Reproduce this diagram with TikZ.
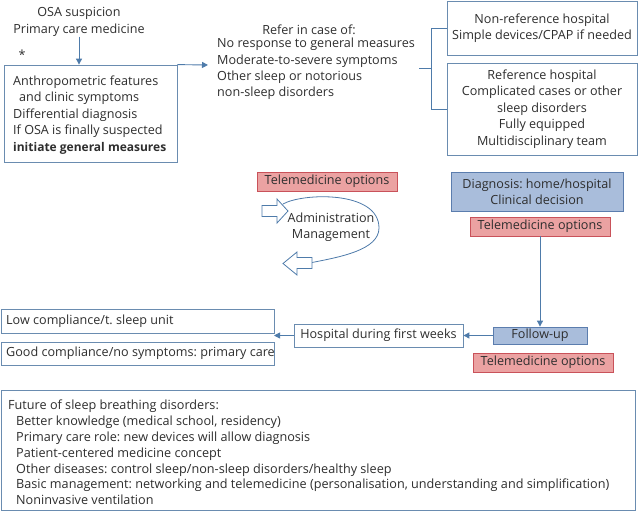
\documentclass[tikz,border=0pt]{standalone}
\usepackage{fontspec}
\setmainfont{Open Sans}
\frenchspacing
\usetikzlibrary{arrows.meta}
\definecolor{ln}{HTML}{4E7BAA}
\definecolor{bx}{HTML}{6A8CB0}
\definecolor{txt}{HTML}{2E2E2E}
\definecolor{redfill}{HTML}{EBA2A2}
\definecolor{redline}{HTML}{C9525A}
\definecolor{bluefill}{HTML}{A9BDDB}
\definecolor{blueline}{HTML}{5B7DAE}
\tikzset{
  x=1pt,y=-1pt,
  every node/.style={text=txt,font=\fontsize{12.6}{16.4}\selectfont,inner sep=0pt},
  wbox/.style={draw=bx,line width=0.8pt,fill=white},
  redbox/.style={draw=redline,line width=0.8pt,fill=redfill},
  bluebox/.style={draw=blueline,line width=0.8pt,fill=bluefill},
  conn/.style={draw=ln,line width=0.9pt},
  arr/.style={conn,-{Triangle[length=6pt,width=6pt]}},
  hollow/.style={draw=ln,line width=0.8pt,fill=white,line join=miter},
  ltext/.style={anchor=west,align=left},
}
\begin{document}
\begin{tikzpicture}
\useasboundingbox (0,0) rectangle (640,512);
% top left
\node[align=center] (osa) at (79,22) {OSA suspicion\\Primary care medicine};
\node (star) at (22,55) {*};
\node[wbox,minimum width=173pt,minimum height=97pt] (box1) at (90.5,113.5) {};
\node[ltext] (box1txt) at (13,115)
 {Anthropometric features\\\hspace*{6pt}and clinic symptoms\\Differential diagnosis\\If OSA is finally suspected\\{\fontsize{12}{16.4}\selectfont\bfseries initiate general measures}};
\draw[arr] (osa.south) -- (osa.south |- box1.north);
\coordinate (rtip) at (208,65);
\draw[arr] (box1.north east) -- (rtip);
% refer text
\node (refertitle) at (309,29.5) {Refer in case of:};
\node[ltext] (refer) at (217,69) {No response to general measures\\Moderate-to-severe symptoms\\Other sleep or notorious\\non-sleep disorders};
% hospitals
\node[wbox,minimum width=190pt,minimum height=54pt,align=center] (nonref) at (542,28)
 {Non-reference hospital\\Simple devices/CPAP if needed};
\node[wbox,minimum width=190pt,minimum height=92pt,align=center] (ref) at (542,109)
 {Reference hospital\\Complicated cases or other\\sleep disorders\\Fully equipped\\Multidisciplinary team};
\coordinate (bm) at (431,68);
\coordinate (bl) at (419,68);
\draw[conn] (nonref.west) -- (nonref.west -| bm) -- (ref.west -| bm) -- (ref.west);
\draw[conn] (bl) -- (bm);
% telemedicine / cycle
\node[redbox,minimum width=140pt,minimum height=19pt] (tele1) at (327,181.5) {Telemedicine options};
\node[bluebox,minimum width=172pt,minimum height=39pt,align=center] (diag) at (537,191.5)
 {Diagnosis: home/hospital\\Clinical decision};
\node[redbox,minimum width=140pt,minimum height=19pt] (tele2) at (540,226.5) {Telemedicine options};
\node[align=center] (admin) at (331,227.5) {Administration\\Management};
\coordinate (cs) at (283,204);
\coordinate (cr) at (379,228);
\coordinate (ce) at (312,262.5);
\draw[conn,line width=0.8pt] (cs) .. controls (302,193) and (379,190) .. (cr) .. controls (379,250) and (340,257) .. (ce);
\draw[hollow] (262,205.5) -- (277,205.5) -- (277,199) -- (288,211) -- (277,223) -- (277,216.5) -- (262,216.5) -- cycle;
\draw[hollow] (312,257.5) -- (297,257.5) -- (297,252) -- (283,263.5) -- (297,275) -- (297,268.5) -- (312,268.5) -- cycle;
% follow-up row
\node[bluebox,minimum width=94pt,minimum height=17pt] (follow) at (540,335.5) {Follow-up};
\node[redbox,minimum width=140pt,minimum height=19pt] (tele3) at (543,362.5) {Telemedicine options};
\node[wbox,minimum width=169pt,minimum height=23pt] (hosp) at (378.5,335.5) {Hospital during first weeks};
\node[wbox,minimum width=273pt,minimum height=24pt] (low) at (137.5,321) {};
\node[ltext] (lowtxt) at (6,321) {Low compliance/t. sleep unit};
\node[wbox,minimum width=273pt,minimum height=23pt] (good) at (137.5,353.5) {};
\node[ltext] (goodtxt) at (6,353.5) {Good compliance/no symptoms: primary care};
\coordinate (ltip) at (274,335.5);
\draw[arr] (tele2.south) -- (follow.north);
\draw[arr] (follow.west) -- (hosp.east);
\draw[arr] (hosp.west) -- (ltip);
% bottom box
\node[wbox,minimum width=634pt,minimum height=120pt] (future) at (318,450) {};
\node[ltext,font=\fontsize{12.65}{15.8}\selectfont] (futuretxt) at (8,452.5)
 {Future of sleep breathing disorders:\\
 \hspace*{8pt}Better knowledge (medical school, residency)\\
 \hspace*{8pt}Primary care role: new devices will allow diagnosis\\
 \hspace*{8pt}Patient-centered medicine concept\\
 \hspace*{8pt}Other diseases: control sleep/non-sleep disorders/healthy sleep\\
 \hspace*{8pt}Basic management: networking and telemedicine (personalisation, understanding and simplification)\\
 \hspace*{8pt}Noninvasive ventilation};
\end{tikzpicture}
\end{document}
